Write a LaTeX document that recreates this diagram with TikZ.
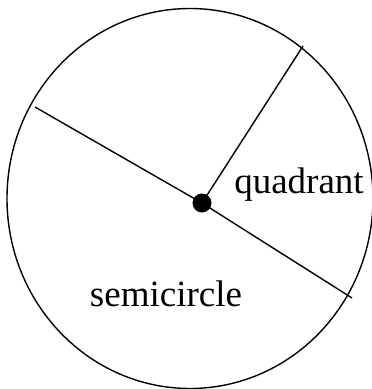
\documentclass[tikz,border=0pt]{standalone}
\usepackage{fontspec}
\setmainfont{Liberation Serif}
\begin{document}
\begin{tikzpicture}[x=1pt,y=-1pt,
  edge/.style={line width=1.4pt,black},
  lbl/.style={font=\fontsize{37}{40}\selectfont,inner sep=0pt,anchor=base}]
\useasboundingbox (0,0) rectangle (372,389);
\begin{scope}
\clip (0,0) rectangle (372,389);
\draw[edge] (190,198.5) ellipse [x radius=183, y radius=190];
\end{scope}
\coordinate (l) at (35,107);
\coordinate (r) at (352,298);
\coordinate (u) at (303,46);
\node[circle,fill=black,minimum size=19pt,inner sep=0pt] (c) at (202,203) {};
\draw[edge] (l) -- (c.center) -- (r);
\draw[edge] (c.center) -- (u);
\node[lbl] (q) at (299,193) {quadrant};
\node[lbl] (s) at (166,306) {semicircle};
\end{tikzpicture}
\end{document}
